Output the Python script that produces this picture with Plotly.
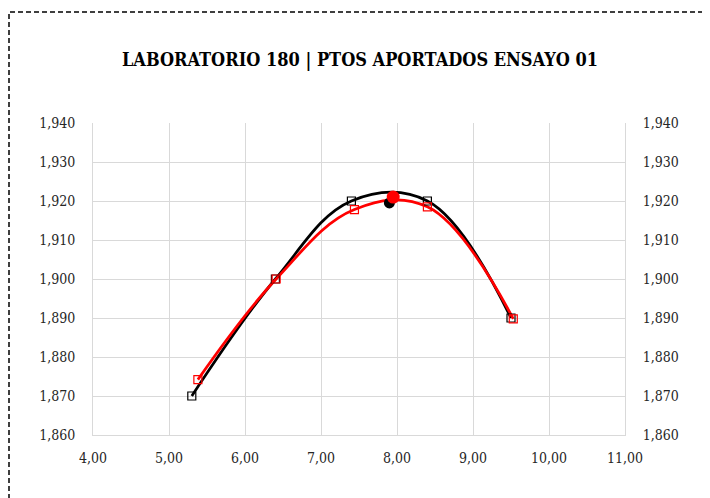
import plotly.graph_objects as go

# ensayo 01 - lab 180 (negro) y puntos aportados (rojo)
x_lab = [5.30, 6.40, 7.40, 8.40, 9.50]
y_lab = [1.870, 1.900, 1.920, 1.920, 1.890]

x_apo = [5.38, 6.41, 7.44, 8.40, 9.53]
y_apo = [1.8742, 1.900, 1.9178, 1.9185, 1.8898]

# optimos
x_opt_lab = [7.90]
y_opt_lab = [1.9195]
x_opt_apo = [7.95]
y_opt_apo = [1.9210]

x_ticks = [4, 5, 6, 7, 8, 9, 10, 11]
y_ticks = [1.860, 1.870, 1.880, 1.890, 1.900, 1.910, 1.920, 1.930, 1.940]

font_txt = "DejaVu Serif Condensed"
grid = "#d9d9d9"

# la pagina tiene 8px de margen en el body
W, H = 702, 490
L, R, T, B = 85, 85, 115, 63
pw, ph = W - L - R, H - T - B

fig = go.Figure()

fig.add_trace(go.Scatter(x=x_lab, y=y_lab, mode="lines",
                         line=dict(color="black", width=2.75, shape="spline", smoothing=1.1),
                         hoverinfo="skip"))
fig.add_trace(go.Scatter(x=x_apo, y=y_apo, mode="lines",
                         line=dict(color="#ff0000", width=2.75, shape="spline", smoothing=1.1),
                         hoverinfo="skip"))
fig.add_trace(go.Scatter(x=x_lab, y=y_lab, mode="markers",
                         marker=dict(symbol="square-open", size=8, color="black",
                                     line=dict(width=1.2, color="black"))))
fig.add_trace(go.Scatter(x=x_apo, y=y_apo, mode="markers",
                         marker=dict(symbol="square-open", size=8, color="#ff0000",
                                     line=dict(width=1.2, color="#ff0000"))))
fig.add_trace(go.Scatter(x=x_opt_lab, y=y_opt_lab, mode="markers",
                         marker=dict(symbol="circle", size=11, color="black")))
fig.add_trace(go.Scatter(x=x_opt_apo, y=y_opt_apo, mode="markers",
                         marker=dict(symbol="circle", size=13, color="#ff0000")))
# eje derecho
fig.add_trace(go.Scatter(x=x_lab, y=y_lab, mode="markers", yaxis="y2",
                         marker=dict(opacity=0), hoverinfo="skip"))

tick_font = dict(family=font_txt, size=14, color="#262626")

fig.update_layout(
    width=W, height=H,
    margin=dict(l=L, r=R, t=T, b=B),
    paper_bgcolor="white", plot_bgcolor="white",
    showlegend=False,
    separators=", ",
    title=dict(text="<b>LABORATORIO 180 | PTOS APORTADOS ENSAYO 01</b>",
               x=352 / W, xanchor="center", y=1 - 52 / H, yanchor="middle",
               font=dict(family=font_txt, size=18, color="black")),
    xaxis=dict(range=[4, 11], tickvals=x_ticks, tickformat=".2f",
               showgrid=True, gridcolor=grid, gridwidth=1,
               showline=True, linecolor=grid, linewidth=1, zeroline=False,
               ticks="", ticklabelstandoff=10, tickfont=tick_font),
    yaxis=dict(range=[1.860, 1.940], tickvals=y_ticks, tickformat=".3f",
               showgrid=True, gridcolor=grid, gridwidth=1,
               showline=True, linecolor=grid, linewidth=1, zeroline=False,
               ticks="", ticklabelstandoff=14, tickfont=tick_font),
    yaxis2=dict(range=[1.860, 1.940], tickvals=y_ticks, tickformat=".3f",
                overlaying="y", side="right", showgrid=False,
                showline=True, linecolor=grid, linewidth=1, zeroline=False,
                ticks="", ticklabelstandoff=14, tickfont=tick_font),
    shapes=[dict(type="rect", xref="paper", yref="paper",
                 x0=(1 - L) / pw, x1=(W + 10 - L) / pw,
                 y0=(H - B - (H + 10)) / ph, y1=(H - B - 4) / ph,
                 line=dict(color="black", width=1.5, dash="5px,3px"),
                 fillcolor="rgba(0,0,0,0)", layer="above")],
)

fig.write_html("out.html")
